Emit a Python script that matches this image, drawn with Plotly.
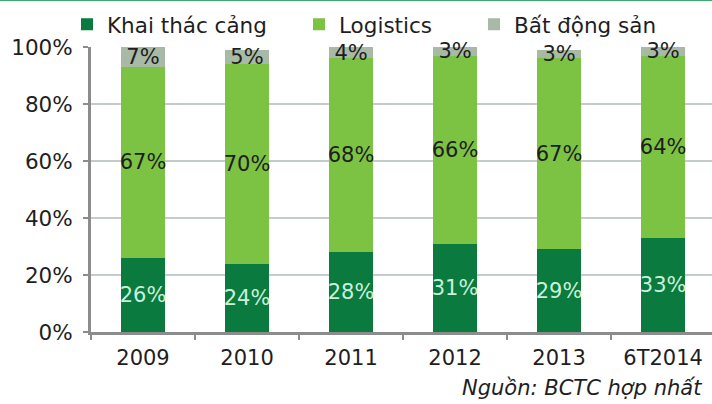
import plotly.graph_objects as go

# Revenue structure by segment (% of total)
periods = ["2009", "2010", "2011", "2012", "2013", "6T2014"]
port_ops = [26, 24, 28, 31, 29, 33]        # Khai thác cảng
logistics = [67, 70, 68, 66, 67, 64]       # Logistics
real_estate = [7, 5, 4, 3, 3, 3]           # Bất động sản
y_ticks = [0, 20, 40, 60, 80, 100]

FONT = "DejaVu Sans"
TXT = "#1e1e1e"

# plot area in pixels (for placing legend entries)
L, W = 91, 621

def px_to_paper(px):
    return (px - L) / W

series = [
    ("Khai thác cảng", port_ops, "#0b7a3e", "#c9f0da", "legend", 67),
    ("Logistics", logistics, "#7cc243", TXT, "legend2", 299),
    ("Bất động sản", real_estate, "#a8baa6", TXT, "legend3", 474),
]

fig = go.Figure()
legend_cfg = {}
for name, vals, color, tcolor, leg, leg_px in series:
    fig.add_trace(go.Bar(
        name=name, x=periods, y=vals, legend=leg,
        marker=dict(color=color, line=dict(width=0)),
        text=[f"{v}%" for v in vals],
        textposition="inside", insidetextanchor="middle", textangle=0,
        textfont=dict(family=FONT, size=21, color=tcolor),
        cliponaxis=False,
    ))
    legend_cfg[leg] = dict(
        orientation="h", x=px_to_paper(leg_px), xanchor="left",
        y=1.08, yanchor="middle", itemwidth=30,
        font=dict(family=FONT, size=21.5, color=TXT),
        bgcolor="rgba(0,0,0,0)",
    )

fig.update_layout(
    barmode="stack",
    bargap=0.57,
    width=712, height=404,
    margin=dict(l=L, r=0, t=47, b=72),
    paper_bgcolor="white", plot_bgcolor="white",
    font=dict(family=FONT, size=21, color=TXT),
    uniformtext=dict(minsize=21, mode="show"),
    showlegend=True,
    xaxis=dict(
        type="category", range=[-0.5, 5.47],
        showline=True, linecolor="#8c8c8c", linewidth=3,
        ticks="outside", tickson="boundaries", ticklen=5, tickwidth=2, tickcolor="#8c8c8c",
        showgrid=False, ticklabelstandoff=5,
        tickfont=dict(family=FONT, size=21, color=TXT),
    ),
    yaxis=dict(
        range=[0, 100], tickvals=y_ticks, ticktext=[f"{t}%" for t in y_ticks],
        showline=True, linecolor="#8c8c8c", linewidth=3,
        ticks="outside", ticklen=5, tickwidth=2, tickcolor="#8c8c8c",
        showgrid=True, gridcolor="#c3cbcb", gridwidth=2, zeroline=False,
        ticklabelstandoff=6,
        tickfont=dict(family=FONT, size=21.5, color=TXT),
    ),
    shapes=[dict(type="line", xref="paper", yref="paper", x0=-0.2, x1=1.0,
                 y0=1.165, y1=1.165, line=dict(color="#3aa86a", width=2))],
    annotations=[dict(
        text="<i>Nguồn: BCTC hợp nhất</i>", xref="paper", yref="paper",
        x=px_to_paper(704), y=-0.198, xanchor="right", yanchor="middle", showarrow=False,
        font=dict(family=FONT, size=21, color=TXT),
    )],
    **legend_cfg,
)

fig.write_html("out.html")
